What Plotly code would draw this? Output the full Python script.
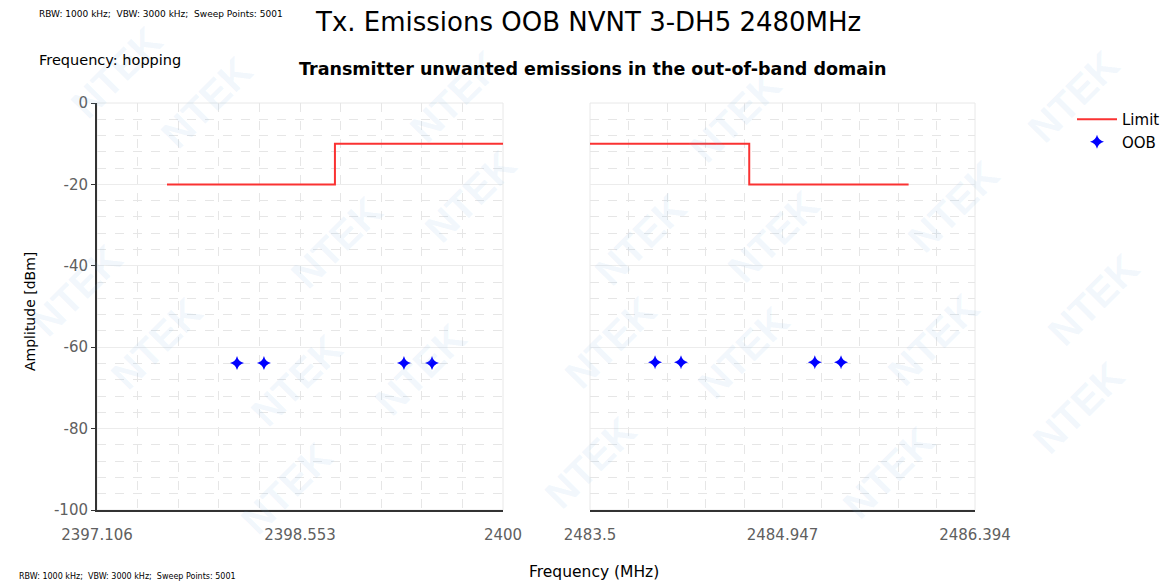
import plotly.graph_objects as go

# ---- data ----
limit_low_x = [2397.605, 2398.802, 2398.802, 2400.0]
limit_low_y = [-20, -20, -10, -10]
limit_high_x = [2483.5, 2484.697, 2484.697, 2485.895]
limit_high_y = [-10, -10, -20, -20]

oob_low_x = [2398.104, 2398.296, 2399.294, 2399.494]
oob_low_y = [-63.9, -63.9, -63.9, -63.9]
oob_high_x = [2483.989, 2484.184, 2485.19, 2485.387]
oob_high_y = [-63.7, -63.7, -63.7, -63.7]

x1_ticks = [2397.106, 2398.553, 2400]
x1_labels = ["2397.106", "2398.553", "2400"]
x2_ticks = [2483.5, 2484.947, 2486.394]
x2_labels = ["2483.5", "2484.947", "2486.394"]
y_ticks = [0, -20, -40, -60, -80, -100]
y_labels = ["0", "-20", "-40", "-60", "-80", "-100"]

# page body has an 8px margin; figure is sized to fit the window
OFF = 8
W, H = 1171 - OFF, 585 - OFF


def px(x):
    return (x - OFF) / W


def py(y):
    return 1 - (y - OFF) / H


FONT = "DejaVu Sans, Arial, sans-serif"
RED = "rgb(250,50,50)"
BLUE = "#0000ff"

fig = go.Figure()
fig.add_trace(go.Scatter(x=limit_low_x, y=limit_low_y, mode="lines", name="Limit",
                         line=dict(color=RED, width=2), xaxis="x", yaxis="y"))
fig.add_trace(go.Scatter(x=limit_high_x, y=limit_high_y, mode="lines", name="Limit",
                         line=dict(color=RED, width=2), xaxis="x2", yaxis="y2", showlegend=False))
fig.add_trace(go.Scatter(x=oob_low_x, y=oob_low_y, mode="markers", name="OOB",
                         marker=dict(symbol="star-diamond", size=10, color=BLUE), xaxis="x", yaxis="y"))
fig.add_trace(go.Scatter(x=oob_high_x, y=oob_high_y, mode="markers", name="OOB",
                         marker=dict(symbol="star-diamond", size=10, color=BLUE), xaxis="x2", yaxis="y2", showlegend=False))

d1 = [px(97), px(503)]
d2 = [px(590), px(975)]
dy = [py(510), py(103)]

tickfont = dict(family=FONT, size=15, color="#606060")
GRID = "#ececec"
MINOR = "#e6e6e6"


def xaxis(dom, rng, ticks, labels, anchor):
    step = (rng[1] - rng[0]) / 10
    return dict(domain=dom, range=rng, anchor=anchor, tickmode="array", tickvals=ticks, ticktext=labels,
                tickfont=tickfont, showgrid=True, gridcolor=MINOR, gridwidth=1, griddash="dash", zeroline=False,
                showline=True, linecolor="#333333", linewidth=2,
                ticks="outside", ticklen=10, tickcolor="rgba(0,0,0,0)", automargin=False,
                minor=dict(tick0=rng[0], dtick=step, showgrid=True, gridcolor=MINOR, griddash="dash", gridwidth=1))


def yaxis(anchor, show_labels, show_line):
    return dict(domain=dy, range=[-100, 0], anchor=anchor, tickmode="array", tickvals=y_ticks,
                ticktext=y_labels, showticklabels=show_labels, tickfont=tickfont,
                showgrid=True, gridcolor=GRID, gridwidth=1, zeroline=False,
                showline=show_line, linecolor="#333333", linewidth=2, automargin=False,
                ticks="outside" if show_labels else "", ticklen=4, tickcolor="#333333",
                minor=dict(dtick=4, showgrid=True, gridcolor=MINOR, griddash="dash", gridwidth=1))


fig.update_layout(
    width=W, height=H, autosize=False,
    margin=dict(l=0, r=0, t=0, b=0, autoexpand=False),
    paper_bgcolor="white", plot_bgcolor="white",
    font=dict(family=FONT, color="#000000"),
    xaxis=xaxis(d1, [2397.106, 2400], x1_ticks, x1_labels, "y"),
    xaxis2=xaxis(d2, [2483.5, 2486.394], x2_ticks, x2_labels, "y2"),
    yaxis=yaxis("x", True, True),
    yaxis2=yaxis("x2", False, False),
    showlegend=True,
    legend=dict(x=px(1072), y=py(103), xanchor="left", yanchor="top",
                font=dict(family=FONT, size=15, color="#000000"), bgcolor="rgba(0,0,0,0)",
                tracegroupgap=0, itemwidth=40),
)

# faint frame edges
for dom in (d1, d2):
    fig.add_shape(type="rect", xref="paper", yref="paper", x0=dom[0], x1=dom[1], y0=dy[0], y1=dy[1],
                  line=dict(color="#e8e8e8", width=1), layer="below")

# watermark
wm_pos = [(150, 45), (455, 40), (735, 60), (1010, 150), (280, 185), (470, 140), (640, 240), (830, 180),
          (1150, 300), (100, 400), (240, 380), (420, 370), (610, 400), (800, 410), (990, 340),
          (1135, 465), (60, 15), (230, 545), (590, 520), (945, 530), (20, 290), (1130, 40)]
for (wx, wy) in wm_pos:
    fig.add_annotation(x=px(wx), y=py(wy), xref="paper", yref="paper", text="<b>NTEK</b>",
                       showarrow=False, textangle=-45,
                       font=dict(family="Arial, sans-serif", size=40, color="rgba(120,180,230,0.10)"))

annots = [
    dict(x=588, y=22, text="Tx. Emissions OOB NVNT 3-DH5 2480MHz", size=26),
    dict(x=593, y=69, text="<b>Transmitter unwanted emissions in the out-of-band domain</b>", size=17.5),
    dict(x=110, y=60, text="Frequency: hopping", size=14.5),
    dict(x=594, y=572, text="Frequency (MHz)", size=15.5),
]
for a in annots:
    fig.add_annotation(x=px(a["x"]), y=py(a["y"]), xref="paper", yref="paper", text=a["text"], showarrow=False,
                       xanchor="center", yanchor="middle", font=dict(family=FONT, size=a["size"], color="#000000"))

fig.add_annotation(x=px(20), y=py(312), xref="paper", yref="paper", text="Amplitude [dBm]",
                   showarrow=False, textangle=-90, font=dict(family=FONT, size=14, color="#000000"))
# info lines at top and bottom edges
fig.add_annotation(x=px(37), y=py(14), xref="paper", yref="paper", xanchor="left", yanchor="middle",
                   text="RBW: 1000 kHz;  VBW: 3000 kHz;  Sweep Points: 5001", showarrow=False,
                   font=dict(family=FONT, size=9, color="#000000"))
fig.add_annotation(x=px(17), y=py(576), xref="paper", yref="paper", xanchor="left", yanchor="middle",
                   text="RBW: 1000 kHz;  VBW: 3000 kHz;  Sweep Points: 5001", showarrow=False,
                   font=dict(family=FONT, size=8, color="#000000"))

fig.write_html("out.html")
